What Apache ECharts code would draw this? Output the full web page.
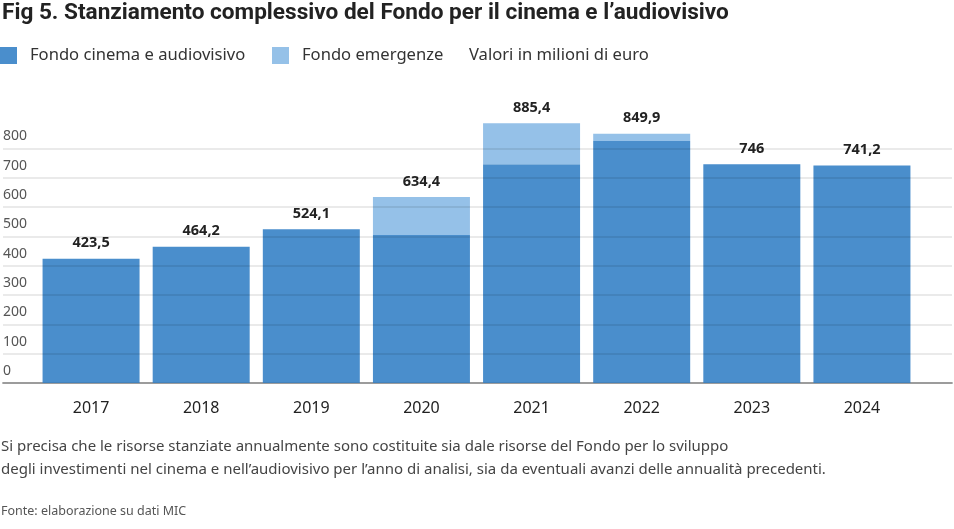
<!DOCTYPE html>
<html>
<head>
<meta charset="utf-8">
<script src="https://cdn.jsdelivr.net/npm/echarts@6/dist/echarts.min.js"></script>
<style>
html,body{margin:0;padding:0;background:#fff;}
#chart{width:954px;height:529px;}
</style>
</head>
<body>
<div id="chart"></div>
<script>
const years = ['2017','2018','2019','2020','2021','2022','2023','2024'];
const fondoCinema = [423.5, 464.2, 524.1, 504.4, 745.4, 825.0, 746.0, 741.2];
const fondoEmergenze = [0, 0, 0, 130.0, 140.0, 24.9, 0, 0];
const totali = [423.5, 464.2, 524.1, 634.4, 885.4, 849.9, 746, 741.2];
const yTicks = [0, 100, 200, 300, 400, 500, 600, 700, 800];

const FONT = "'Noto Sans', sans-serif";
const TFONT = "Roboto, 'Noto Sans', sans-serif";
const fmt = v => String(v).replace('.', ',');

const chart = echarts.init(document.getElementById('chart'), null, {renderer: 'canvas'});
chart.setOption({
  animation: false,
  backgroundColor: '#fff',
  textStyle: {fontFamily: FONT},
  title: [
    {text: 'Fig 5. Stanziamento complessivo del Fondo per il cinema e l\u2019audiovisivo',
     left: 2, top: 2, padding: 0,
     textStyle: {fontFamily: TFONT, fontSize: 22.6, fontWeight: 'bold', color: '#222'}},
    {text: 'Valori in milioni di euro', left: 469, top: 47, padding: 0,
     textStyle: {fontFamily: FONT, fontSize: 16.6, fontWeight: 'normal', color: '#333'}},
    {text: 'Si precisa che le risorse stanziate annualmente sono costituite sia dale risorse del Fondo per lo sviluppo\ndegli investimenti nel cinema e nell\u2019audiovisivo per l\u2019anno di analisi, sia da eventuali avanzi delle annualit\u00e0 precedenti.',
     left: 1, top: 435, padding: 0,
     textStyle: {fontFamily: FONT, fontSize: 15, fontWeight: 'normal', color: '#444', lineHeight: 23}},
    {text: 'Fonte: elaborazione su dati MIC', left: 1, top: 505, padding: 0,
     textStyle: {fontFamily: FONT, fontSize: 12.5, fontWeight: 'normal', color: '#555'}}
  ],
  legend: [
    {data: ['Fondo cinema e audiovisivo'], left: 0, top: 47, padding: 0,
     icon: 'rect', itemWidth: 17, itemHeight: 17, selectedMode: false,
     textStyle: {fontFamily: FONT, fontSize: 16.6, color: '#333', padding: [0, 0, 0, 8]}},
    {data: ['Fondo emergenze'], left: 272, top: 47, padding: 0,
     icon: 'rect', itemWidth: 17, itemHeight: 17, selectedMode: false,
     textStyle: {fontFamily: FONT, fontSize: 16.6, color: '#333', padding: [0, 0, 0, 8]}}
  ],
  grid: [
    {left: 36, right: 37, top: 119, bottom: 146},
    {left: 0, right: 2, top: 119, bottom: 146}
  ],
  xAxis: [
    {type: 'category', gridIndex: 0, data: years,
     axisLine: {show: false}, axisTick: {show: false},
     axisLabel: {fontFamily: FONT, fontSize: 16, color: '#222', margin: 17}},
    {type: 'value', gridIndex: 1, min: 0, max: 1,
     axisLine: {show: true, lineStyle: {color: '#aaa', width: 2}},
     axisTick: {show: false}, axisLabel: {show: false}, splitLine: {show: false}}
  ],
  yAxis: [
    {type: 'value', gridIndex: 0, min: 0, max: 900, interval: 100, show: false},
    {type: 'value', gridIndex: 1, min: 0, max: 900, interval: 100, z: 3,
     axisLine: {show: false}, axisTick: {show: false},
     splitLine: {show: true, showMaxLine: false, lineStyle: {color: 'rgba(0,0,0,0.11)', width: 1.5}},
     axisLabel: {inside: true, margin: 0, align: 'left', verticalAlign: 'bottom', padding: [0, 0, 5, 0],
       fontFamily: FONT, fontSize: 14, color: '#555', showMaxLabel: false,
       formatter: v => yTicks.indexOf(v) >= 0 ? String(v) : ''}}
  ],
  series: [
    {name: 'Fondo cinema e audiovisivo', type: 'bar', stack: 'tot',
     xAxisIndex: 0, yAxisIndex: 0, barWidth: 97, data: fondoCinema,
     itemStyle: {color: '#4a8ecc'}},
    {name: 'Fondo emergenze', type: 'bar', stack: 'tot',
     xAxisIndex: 0, yAxisIndex: 0, barWidth: 97, data: fondoEmergenze,
     itemStyle: {color: '#95c1e8'},
     label: {show: true, position: 'top', distance: 8,
       fontFamily: FONT, fontSize: 14.5, fontWeight: 'bold', color: '#222',
       formatter: p => fmt(totali[p.dataIndex])}}
  ]
});
</script>
</body>
</html>
